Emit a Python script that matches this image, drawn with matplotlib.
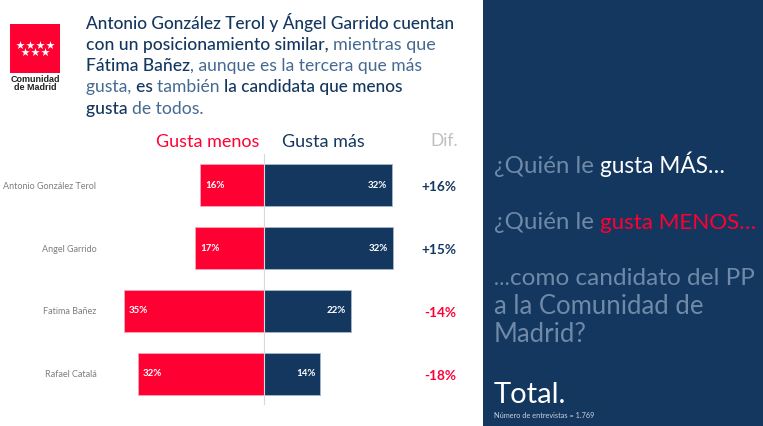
import matplotlib
matplotlib.use('Agg')
import matplotlib.pyplot as plt
from matplotlib.patches import Rectangle

plt.rcParams['font.family'] = ['Lato', 'DejaVu Sans']

candidates = ['Antonio González Terol', 'Angel Garrido', 'Fatima Bañez', 'Rafael Catalá']
gusta_menos = [15.9, 17.2, 35.1, 31.5]
gusta_mas = [32.0, 32.2, 21.7, 14.0]
dif_labels = ['+16%', '+15%', '-14%', '-18%']

RED = '#FF0033'
NAVY = '#14375F'
MID = '#456A92'
GREY = '#7F7F7F'
PALE = '#6F8AA8'

W, H = 763, 426
fig = plt.figure(figsize=(W / 100, H / 100), dpi=100, facecolor='white')

# overlay in pixel coords for the slide furniture
bg = fig.add_axes([0, 0, 1, 1])
bg.set_xlim(0, W)
bg.set_ylim(H, 0)
bg.axis('off')
bg.add_patch(Rectangle((483, 0), 280, H, color=NAVY, lw=0))


def runs(x, y, parts):
    # write pieces of text one after the other on the same line
    r = fig.canvas.get_renderer()
    for txt, color, weight, size in parts:
        t = bg.text(x, y, txt, color=color, fontsize=size, fontweight=weight, va='baseline', ha='left')
        x += t.get_window_extent(r).width


# logo
bg.add_patch(Rectangle((10, 24), 50, 49, color=RED, lw=0))
star_x = [20, 30, 40, 50, 25, 35, 45]
star_y = [45, 45, 45, 45, 52, 52, 52]
bg.scatter(star_x, star_y, marker='*', s=40, color='white', lw=0)
bg.text(35, 79.5, 'Comunidad', color='#222222', fontsize=6.5, fontweight='bold', ha='center', va='center', family='Liberation Sans')
bg.text(35, 88, 'de Madrid', color='#222222', fontsize=6.5, fontweight='bold', ha='center', va='center', family='Liberation Sans')

# headline
M = 'medium'
N = 'normal'
runs(86, 29, [('Antonio González Terol y Ángel Garrido cuentan', NAVY, M, 12.4)])
runs(86, 50, [('con un posicionamiento similar, ', NAVY, M, 12.6), ('mientras que', MID, N, 13)])
runs(86, 71, [('Fátima Bañez', NAVY, M, 12.6), (', aunque es la tercera que más', MID, N, 12.6)])
runs(86, 92, [('gusta, ', MID, N, 12.6), ('es ', NAVY, M, 12.6), ('también ', MID, N, 12.6), ('la candidata que menos', NAVY, M, 12.4)])
runs(86, 114, [('gusta ', NAVY, M, 12.6), ('de todos.', MID, N, 12.6)])

# column headers
bg.text(208, 142, 'Gusta menos', color=RED, fontsize=13, ha='center', va='center')
bg.text(323, 142, 'Gusta más', color=NAVY, fontsize=13, ha='center', va='center')
bg.text(444, 141, 'Dif.', color='#BFBFBF', fontsize=12.5, ha='center', va='center')

# chart
ax = fig.add_axes([104 / W, 1 - 405 / H, 320 / W, 251 / H])
ax.patch.set_alpha(0)
y = list(range(len(candidates)))
ax.barh(y, [-v for v in gusta_menos], height=0.67, color=RED, edgecolor='#F7A8B8', lw=0.6)
ax.barh(y, gusta_mas, height=0.67, color=NAVY, edgecolor='#A9B8CB', lw=0.6)
ax.axvline(0, color='#D9D9D9', lw=0.8)
ax.set_xlim(-40, 40)
ax.set_ylim(3.5, -0.5)
ax.set_yticks(y)
ax.set_yticklabels(candidates, fontsize=6.5, color=GREY)
ax.tick_params(left=False, bottom=False, labelbottom=False, length=0, pad=5.5)
for s in ax.spines.values():
    s.set_visible(False)

for i in y:
    ax.text(-gusta_menos[i] + 1.2, i, f'{gusta_menos[i]:.0f}%', color='white', fontsize=7, fontweight='bold', ha='left', va='center')
    ax.text(gusta_mas[i] - 1.2, i, f'{gusta_mas[i]:.0f}%', color='white', fontsize=7, fontweight='bold', ha='right', va='center')
    c = NAVY if dif_labels[i].startswith('+') else RED
    ax.text(48, i + 0.03, dif_labels[i], color=c, fontsize=9.8, fontweight='bold', ha='right', va='center', clip_on=False)

# right panel
runs(494, 173, [('¿Quién le ', PALE, N, 17.4), ('gusta MÁS…', 'white', N, 16.3)])
runs(494, 229, [('¿Quién le ', PALE, N, 17.4), ('gusta MENOS…', RED, N, 16.1)])
runs(494, 285, [('…', PALE, N, 15), ('como candidato del PP', PALE, N, 17.6)])
runs(494, 314, [('a la Comunidad de', PALE, N, 18.5)])
runs(494, 342, [('Madrid?', PALE, N, 18.5)])
runs(494, 403, [('Total.', 'white', N, 21)])
runs(494, 418, [('Número de entrevistas = 1.769', '#C9D3DF', N, 5.3)])

fig.savefig('out.png', dpi=100)
